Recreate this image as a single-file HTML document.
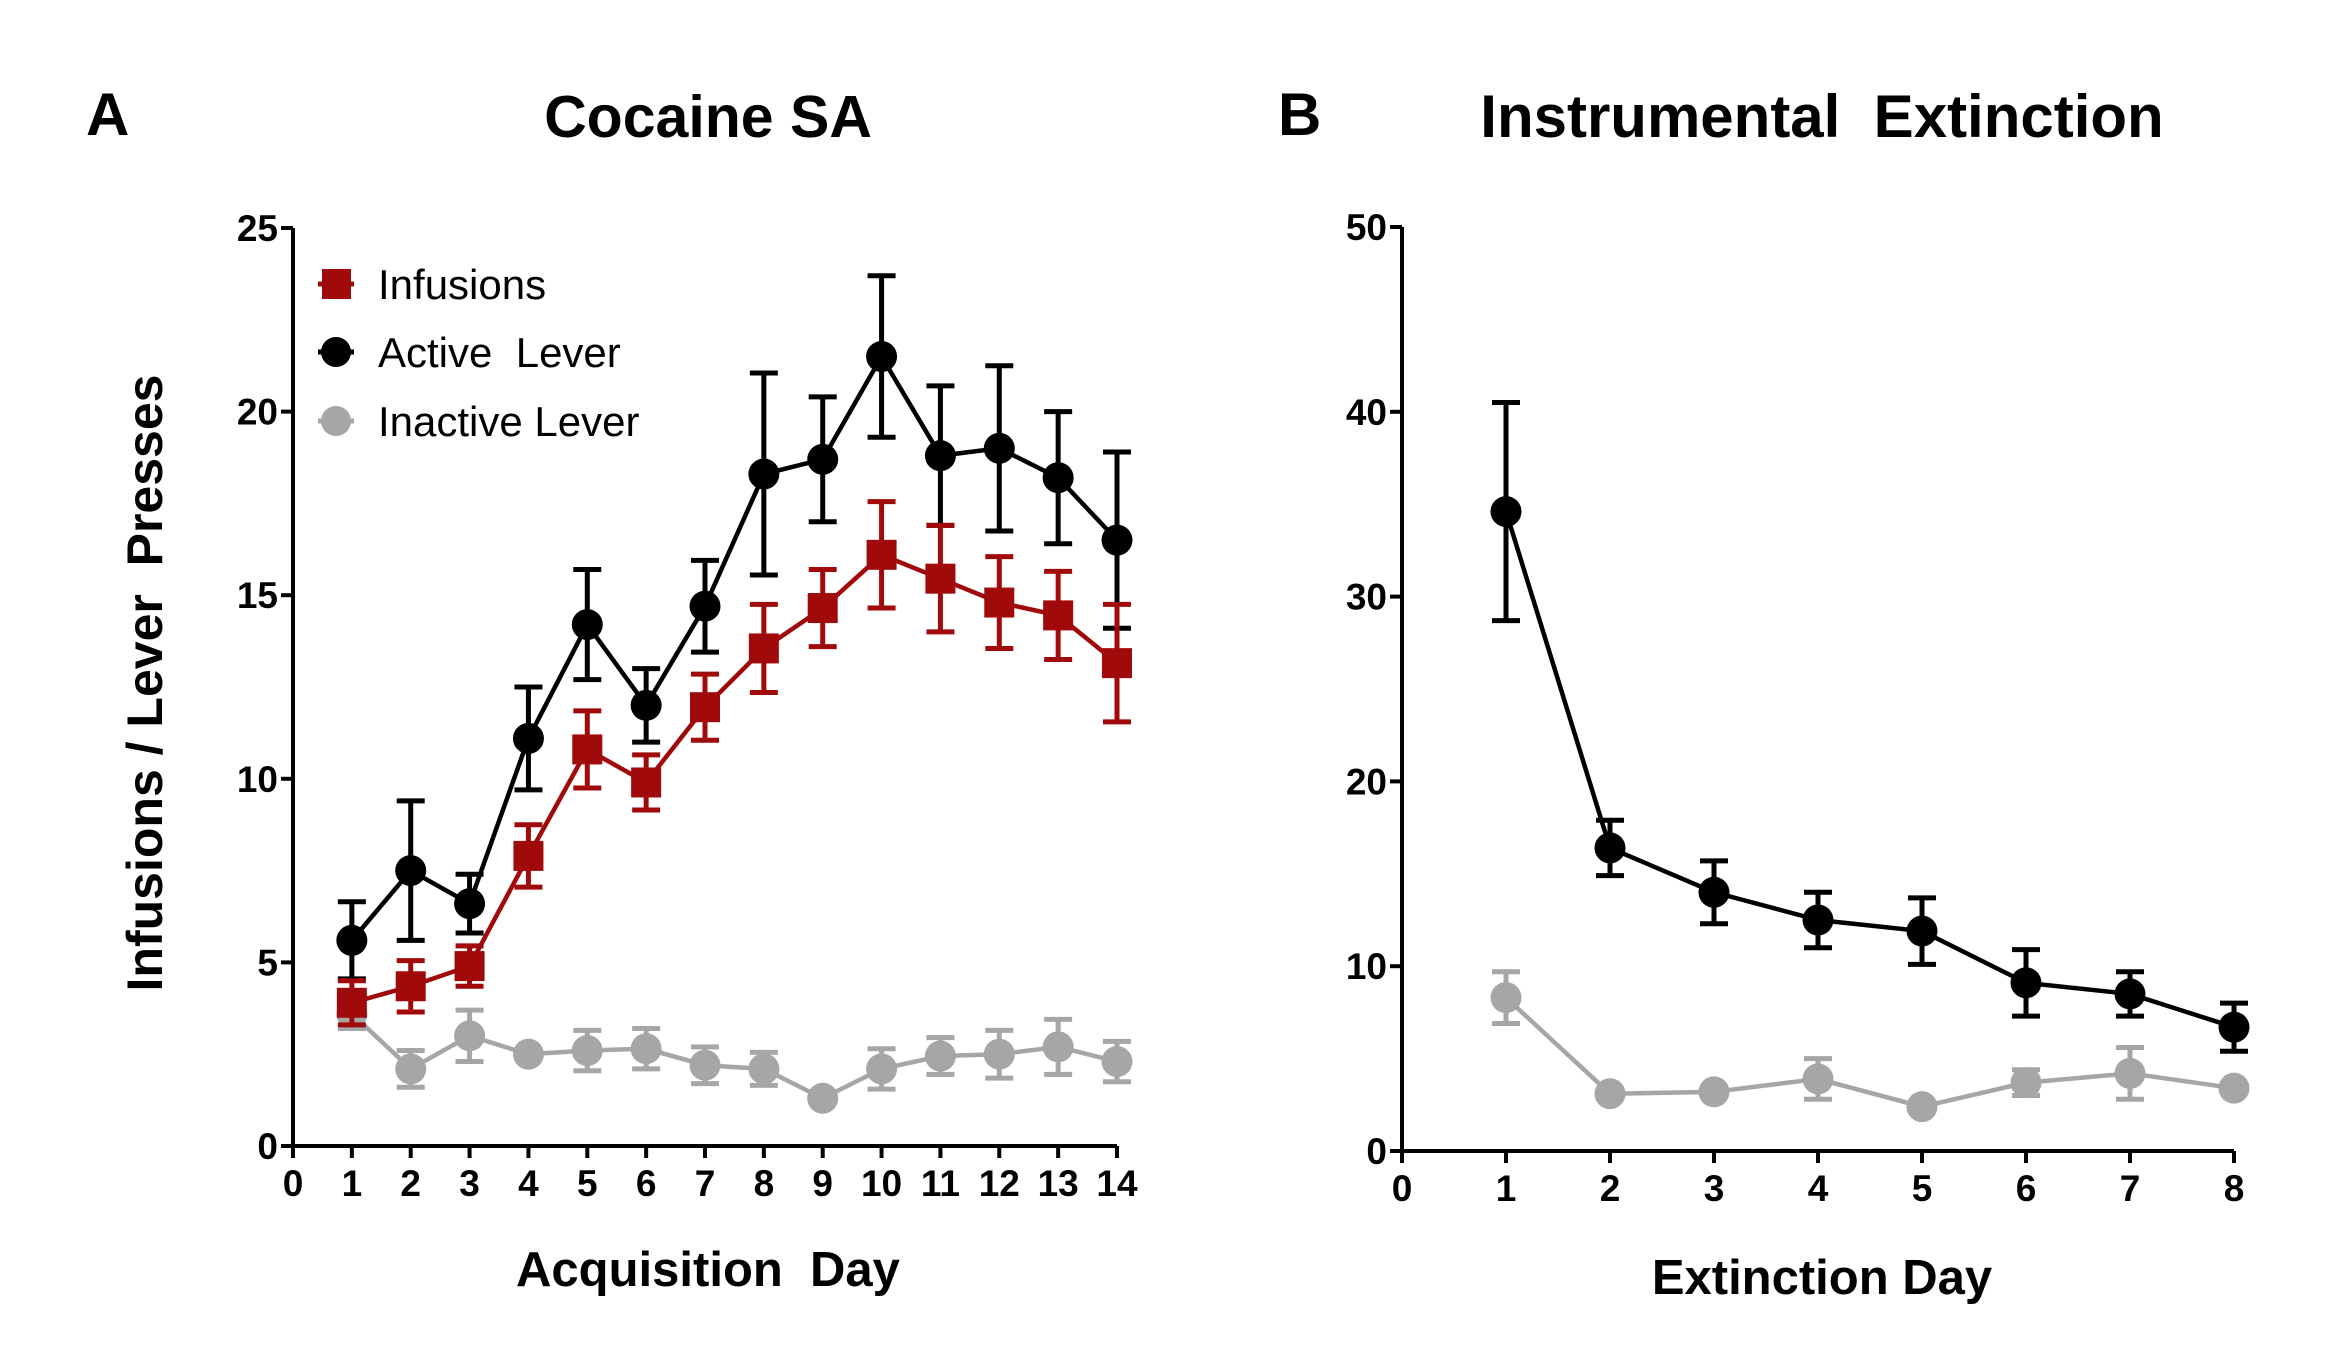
<!DOCTYPE html>
<html><head><meta charset="utf-8"><style>
html,body{margin:0;padding:0;background:#fff;}
svg{display:block;font-family:"Liberation Sans",Arial,sans-serif;}
</style></head><body>
<svg id="chart" width="2340" height="1364" viewBox="0 0 2340 1364">
<text x="86" y="135" font-size="60" font-weight="bold">A</text>
<text x="708" y="137" font-size="59" font-weight="bold" text-anchor="middle">Cocaine SA</text>
<text x="1278" y="135" font-size="60" font-weight="bold">B</text>
<text x="1822" y="137" font-size="60" font-weight="bold" text-anchor="middle" xml:space="preserve">Instrumental  Extinction</text>
<text transform="translate(162,683) rotate(-90)" font-size="50" font-weight="bold" text-anchor="middle" xml:space="preserve">Infusions / Lever  Presses</text>
<text x="708" y="1286" font-size="49" font-weight="bold" text-anchor="middle" xml:space="preserve">Acquisition  Day</text>
<text x="1822" y="1294" font-size="49" font-weight="bold" text-anchor="middle">Extinction Day</text>
<g id="pa"></g>
<g id="pb"></g>
<g>
 <g><line x1="318" y1="284" x2="354" y2="284" stroke="#a10a0a" stroke-width="5"/><rect x="322" y="269" width="29" height="30" fill="#a10a0a"/><text x="378" y="299" font-size="42">Infusions</text></g>
 <g><line x1="318" y1="352" x2="354" y2="352" stroke="#000" stroke-width="5"/><circle cx="336" cy="352" r="15"/><text x="378" y="367" font-size="42" xml:space="preserve">Active  Lever</text></g>
 <g><line x1="318" y1="421" x2="354" y2="421" stroke="#a6a6a8" stroke-width="5"/><circle cx="336" cy="421" r="15" fill="#a6a6a8"/><text x="378" y="436" font-size="42">Inactive Lever</text></g>
</g>
</svg>
<script>
const daysA=[1,2,3,4,5,6,7,8,9,10,11,12,13,14];
const infusions=[3.9,4.35,4.9,7.9,10.8,9.9,11.95,13.55,14.65,16.1,15.45,14.8,14.45,13.15];
const infusionsErr=[0.6,0.7,0.55,0.85,1.05,0.75,0.9,1.2,1.05,1.45,1.45,1.25,1.2,1.6];
const activeA=[5.6,7.5,6.6,11.1,14.2,12.0,14.7,18.3,18.7,21.5,18.8,19.0,18.2,16.5];
const activeAErr=[1.05,1.9,0.8,1.4,1.5,1.0,1.25,2.75,1.7,2.2,1.9,2.25,1.8,2.4];
const inactiveA=[3.6,2.1,3.0,2.5,2.6,2.65,2.2,2.1,1.3,2.1,2.45,2.5,2.7,2.3];
const inactiveAErr=[0.4,0.5,0.7,0.1,0.55,0.55,0.5,0.45,0.1,0.55,0.5,0.65,0.75,0.55];
const xTicksA=[0,1,2,3,4,5,6,7,8,9,10,11,12,13,14];
const yTicksA=[0,5,10,15,20,25];
const daysB=[1,2,3,4,5,6,7,8];
const activeB=[34.6,16.4,14.0,12.5,11.9,9.1,8.5,6.7];
const activeBErr=[5.9,1.5,1.7,1.5,1.8,1.8,1.2,1.3];
const inactiveB=[8.3,3.1,3.2,3.9,2.4,3.7,4.2,3.4];
const inactiveBErr=[1.4,0.1,0.1,1.1,0.1,0.7,1.4,0.1];
const xTicksB=[0,1,2,3,4,5,6,7,8];
const yTicksB=[0,10,20,30,40,50];

const NS='http://www.w3.org/2000/svg';
function mk(parent,tag,attrs){const e=document.createElementNS(NS,tag);for(const k in attrs)e.setAttribute(k,attrs[k]);parent.appendChild(e);return e;}
function panel(g,x0,x1,xmax,y0,y1,ymax,xt,yt,key){
  const sx=v=>x0+(x1-x0)*v/xmax, sy=v=>y0-(y0-y1)*v/ymax;
  const ax=mk(g,'path',{d:`M${x0},${y1} L${x0},${y0} L${x1},${y0}`,fill:'none',stroke:'#000','stroke-width':4});
  
  
  yt.forEach(v=>{mk(g,'line',{x1:x0-12,x2:x0,y1:sy(v),y2:sy(v),stroke:'#000','stroke-width':4});
    const t=mk(g,'text',{x:x0-15,y:sy(v)+13,'font-size':37,'font-weight':'bold','text-anchor':'end'});t.textContent=v;
    
    });
  xt.forEach(v=>{mk(g,'line',{x1:sx(v),x2:sx(v),y1:y0,y2:y0+12,stroke:'#000','stroke-width':4});
    const t=mk(g,'text',{x:sx(v),y:y0+50,'font-size':37,'font-weight':'bold','text-anchor':'middle'});t.textContent=v;
    
    });
  return {sx,sy};
}
function series(g,s,xs,ys,es,color,shape,name){
  const sg=mk(g,'g',{});
  
  
  xs.forEach((x,i)=>{const cx=s.sx(x),t=s.sy(ys[i]+es[i]),b=s.sy(ys[i]-es[i]);
    mk(sg,'path',{d:`M${cx},${t} L${cx},${b} M${cx-14},${t} L${cx+14},${t} M${cx-14},${b} L${cx+14},${b}`,stroke:color,'stroke-width':5,fill:'none'});});
  mk(sg,'polyline',{points:xs.map((x,i)=>s.sx(x)+','+s.sy(ys[i])).join(' '),fill:'none',stroke:color,'stroke-width':4.5});
  xs.forEach((x,i)=>{const cx=s.sx(x),cy=s.sy(ys[i]);let m;
    if(shape==='sq')m=mk(sg,'rect',{x:cx-15,y:cy-15,width:30,height:30,fill:color});
    else m=mk(sg,'circle',{cx:cx,cy:cy,r:15.5,fill:color});
    
    });
}
const pa=document.getElementById('pa'),pb=document.getElementById('pb');
const sA=panel(pa,293,1117,14,1146,228,25,xTicksA,yTicksA,'panel-a');
series(pa,sA,daysA,inactiveA,inactiveAErr,'#a6a6a8','c','inactive-lever-a');
series(pa,sA,daysA,activeA,activeAErr,'#000','c','active-lever-a');
series(pa,sA,daysA,infusions,infusionsErr,'#a10a0a','sq','infusions');
const sB=panel(pb,1402,2234,8,1151,227,50,xTicksB,yTicksB,'panel-b');
series(pb,sB,daysB,inactiveB,inactiveBErr,'#a6a6a8','c','inactive-lever-b');
series(pb,sB,daysB,activeB,activeBErr,'#000','c','active-lever-b');
</script>
</body></html>
